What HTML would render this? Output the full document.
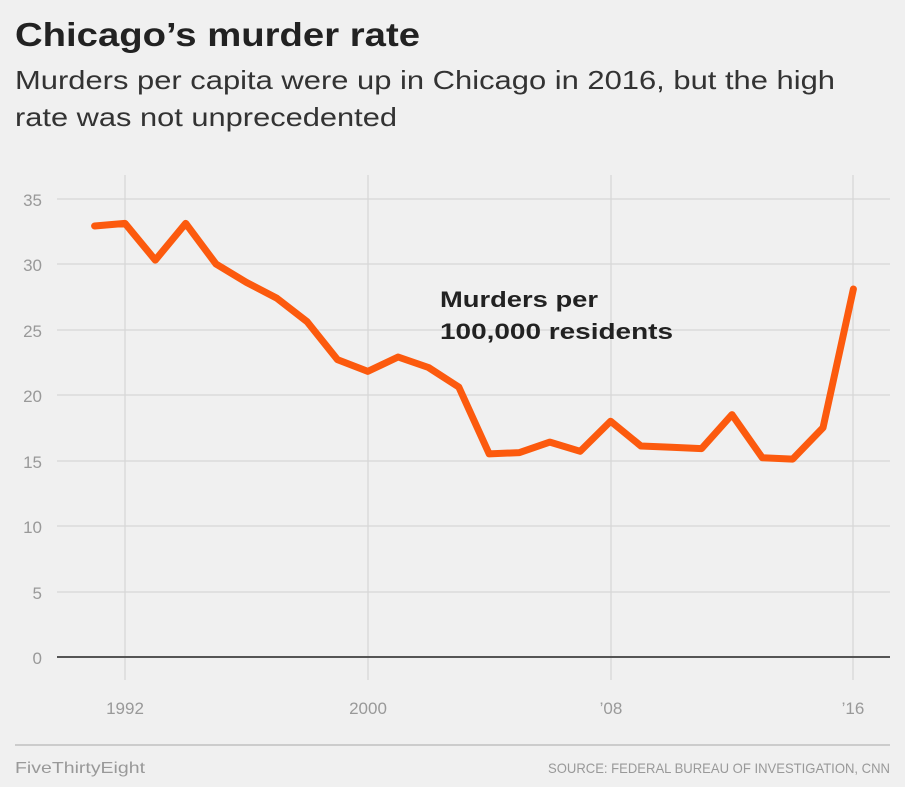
<!DOCTYPE html>
<html><head><style>
body{margin:0;background:#f0f0f0;width:905px;height:787px;overflow:hidden}
svg{display:block}
</style></head><body>
<svg width="905" height="787" xmlns="http://www.w3.org/2000/svg" font-family="Liberation Sans, sans-serif">
<rect width="905" height="787" fill="#f0f0f0"/>
<text x="15" y="46" font-size="33" font-weight="bold" fill="#222" textLength="405" lengthAdjust="spacingAndGlyphs">Chicago’s murder rate</text>
<text x="15" y="89" font-size="26" fill="#333" textLength="820" lengthAdjust="spacingAndGlyphs">Murders per capita were up in Chicago in 2016, but the high</text>
<text x="15" y="126" font-size="26" fill="#333" textLength="382" lengthAdjust="spacingAndGlyphs">rate was not unprecedented</text>
<g stroke="#d6d6d6" stroke-width="1.2">
<line x1="57" x2="890" y1="199" y2="199"/><line x1="57" x2="890" y1="264" y2="264"/>
<line x1="57" x2="890" y1="330" y2="330"/><line x1="57" x2="890" y1="395" y2="395"/>
<line x1="57" x2="890" y1="461" y2="461"/><line x1="57" x2="890" y1="526" y2="526"/>
<line x1="57" x2="890" y1="592" y2="592"/>
<line x1="125" x2="125" y1="175" y2="680"/><line x1="368" x2="368" y1="175" y2="680"/>
<line x1="611" x2="611" y1="175" y2="680"/><line x1="853" x2="853" y1="175" y2="680"/>
</g>
<line x1="57" x2="890" y1="657" y2="657" stroke="#555" stroke-width="2"/>
<g font-size="17" fill="#999" text-anchor="end">
<text x="42" y="206">35</text><text x="42" y="271">30</text><text x="42" y="337">25</text>
<text x="42" y="402">20</text><text x="42" y="468">15</text><text x="42" y="533">10</text>
<text x="42" y="599">5</text><text x="42" y="664">0</text>
</g>
<g font-size="17" fill="#999" text-anchor="middle">
<text x="125" y="714">1992</text><text x="368" y="714">2000</text><text x="611" y="714">’08</text><text x="853" y="714">’16</text>
</g>
<polyline fill="none" stroke="#fc5a0e" stroke-width="7" stroke-linejoin="round" stroke-linecap="round"
points="94.6,226.0 125,223.4 155.3,260.1 185.7,223.4 216,264.0 246.4,282.4 276.7,298.1 307.1,321.7 337.4,359.6 367.8,371.4 398.1,357.0 428.5,367.5 458.8,387.1 489.2,453.9 519.5,452.6 549.9,442.1 580.2,451.3 610.6,421.2 640.9,446.0 671.3,447.3 701.6,448.6 732,414.6 762.3,457.8 792.7,459.1 823,427.7 853.4,289.0"/>
<text x="440" y="307" font-size="22" font-weight="bold" fill="#222" textLength="158" lengthAdjust="spacingAndGlyphs">Murders per</text>
<text x="440" y="339" font-size="22" font-weight="bold" fill="#222" textLength="233" lengthAdjust="spacingAndGlyphs">100,000 residents</text>
<line x1="15" x2="890" y1="745" y2="745" stroke="#ccc" stroke-width="2"/>
<text x="15" y="773" font-size="16" fill="#999" textLength="130" lengthAdjust="spacingAndGlyphs">FiveThirtyEight</text>
<text x="890" y="773" font-size="14" fill="#999" text-anchor="end" textLength="342" lengthAdjust="spacingAndGlyphs">SOURCE: FEDERAL BUREAU OF INVESTIGATION, CNN</text>
</svg>
</body></html>
